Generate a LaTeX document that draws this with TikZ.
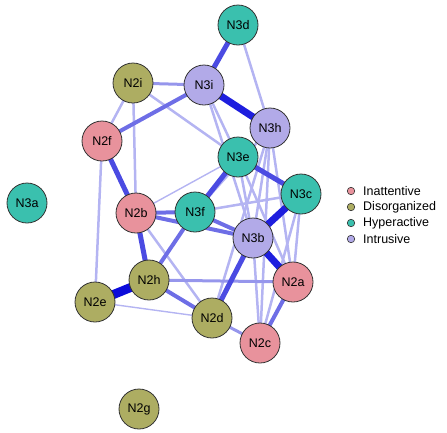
\documentclass[tikz,border=0pt]{standalone}
\usepackage{fontspec}
\setmainfont{Liberation Sans}
\usetikzlibrary{backgrounds}
\definecolor{cIn}{RGB}{232,146,156}
\definecolor{cDis}{RGB}{173,173,98}
\definecolor{cHyp}{RGB}{58,192,174}
\definecolor{cIntr}{RGB}{178,170,232}
\definecolor{eA}{RGB}{180,180,242}
\definecolor{eB}{RGB}{150,150,236}
\definecolor{eC}{RGB}{110,110,230}
\definecolor{eD}{RGB}{75,75,226}
\definecolor{eE}{RGB}{30,30,222}
\definecolor{eF}{RGB}{12,12,218}
\begin{document}
\begin{tikzpicture}[x=1pt,y=-1pt,
  nd/.style={circle, draw=black!80, line width=0.8pt, minimum size=40pt, inner sep=0pt, font=\fontsize{12.5}{14}\selectfont},
  ia/.style={nd, fill=cIn}, dz/.style={nd, fill=cDis}, hy/.style={nd, fill=cHyp}, it/.style={nd, fill=cIntr},
  ea/.style={draw=eA, line width=2.5pt},
  eb/.style={draw=eB, line width=3pt},
  ec/.style={draw=eC, line width=4pt},
  ed/.style={draw=eD, line width=5pt},
  ee/.style={draw=eE, line width=7pt},
  ef/.style={draw=eF, line width=9pt},
  ethin/.style={draw=eA, line width=1.4pt},
  ldot/.style={circle, draw=black!80, line width=0.6pt, minimum size=7.5pt, inner sep=0pt},
  ltxt/.style={anchor=west, inner sep=0pt, font=\fontsize{12.5}{14}\selectfont}]
\useasboundingbox (0,0) rectangle (447,432);
% nodes
\node[hy] (N3d) at (238,25) {N3d};
\node[dz] (N2i) at (133,83) {N2i};
\node[it] (N3i) at (204,85) {N3i};
\node[it] (N3h) at (270,128) {N3h};
\node[ia] (N2f) at (102,141) {N2f};
\node[hy] (N3e) at (238,157) {N3e};
\node[hy] (N3c) at (301,194) {N3c};
\node[hy] (N3a) at (27,203) {N3a};
\node[ia] (N2b) at (136,213) {N2b};
\node[hy] (N3f) at (195,212) {N3f};
\node[it] (N3b) at (253,238) {N3b};
\node[ia] (N2a) at (293,282) {N2a};
\node[dz] (N2h) at (149,280) {N2h};
\node[dz] (N2e) at (95,302) {N2e};
\node[dz] (N2d) at (212,318) {N2d};
\node[ia] (N2c) at (260,343) {N2c};
\node[dz] (N2g) at (139,409) {N2g};
% edges
\begin{scope}[on background layer]
\draw[ea] (N3d.center) -- (N3h.center);
\draw[ea] (N2i.center) -- (N2f.center);
\draw[ea] (N2i.center) -- (N2b.center);
\draw[ea] (N2i.center) -- (N3e.center);
\draw[ea] (N2f.center) -- (N2e.center);
\draw[ethin] (N2b.center) -- (N3e.center);
\draw[ea] (N2b.center) -- (N2d.center);
\draw[ethin] (N2e.center) -- (N2d.center);
\draw[ea] (N3f.center) -- (N3c.center);
\draw[ea] (N3i.center) -- (N3e.center);
\draw[ea] (N3i.center) -- (N3b.center);
\draw[ea] (N3h.center) -- (N3b.center);
\draw[ea] (N3h.center) -- (N2a.center);
\draw[ea] (N3h.center) -- (N2c.center);
\draw[ea] (N3h.center) -- (N2d.center);
\draw[ea] (N3h.center) -- (N3f.center);
\draw[ea] (N3e.center) -- (N3b.center);
\draw[ea] (N3e.center) -- (N2a.center);
\draw[ea] (N3c.center) -- (N2a.center);
\draw[ea] (N3c.center) -- (N2c.center);
\draw[ea] (N3b.center) -- (N2c.center);
\draw[eb] (N2d.center) -- (N2c.center);
\draw[eb] (N2h.center) -- (N2a.center);
\draw[eb] (N2i.center) -- (N3i.center);
\draw[ec] (N3i.center) -- (N2f.center);
\draw[ec] (N2h.center) -- (N2d.center);
\draw[ec] (N2b.center) -- (N3f.center);
\draw[ec] (N2b.center) -- (N3b.center);
\draw[ec] (N3f.center) -- (N3b.center);
\draw[ec] (N2a.center) -- (N2c.center);
\draw[ec] (N3f.center) -- (N2h.center);
\draw[ed] (N2b.center) -- (N2h.center);
\draw[ed] (N3d.center) -- (N3i.center);
\draw[ed] (N2f.center) -- (N2b.center);
\draw[ed] (N3e.center) -- (N3c.center);
\draw[ed] (N3e.center) -- (N3f.center);
\draw[ed] (N3b.center) -- (N2d.center);
\draw[ee] (N3b.center) -- (N2a.center);
\draw[ee] (N3i.center) -- (N3h.center);
\draw[ee] (N3c.center) -- (N3b.center);
\draw[ef] (N2e.center) -- (N2h.center);
\end{scope}
% legend
\node[ldot, fill=cIn] (L1) at (351,191) {};
\node[ldot, fill=cDis] (L2) at (351,207) {};
\node[ldot, fill=cHyp] (L3) at (351,223) {};
\node[ldot, fill=cIntr] (L4) at (351,239) {};
\node[ltxt] (T1) at (363,191) {Inattentive};
\node[ltxt] (T2) at (363,207) {Disorganized};
\node[ltxt] (T3) at (363,223) {Hyperactive};
\node[ltxt] (T4) at (363,239) {Intrusive};
\end{tikzpicture}
\end{document}
